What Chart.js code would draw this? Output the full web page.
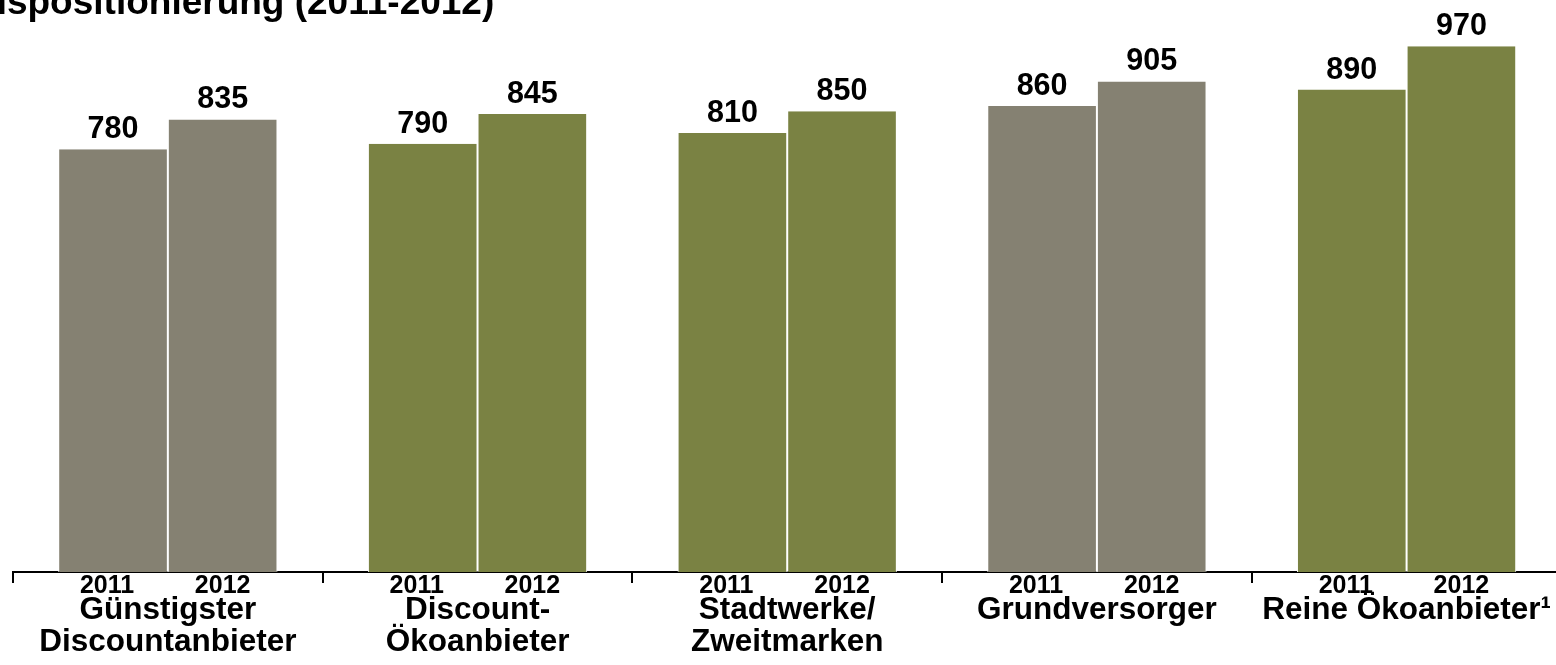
<!DOCTYPE html>
<html>
<head>
<meta charset="utf-8">
<script src="https://cdn.jsdelivr.net/npm/chart.js@4"></script>
<style>
  html, body { margin: 0; padding: 0; overflow: hidden; background: #fff; }
  #wrap { position: relative; width: 1556px; height: 665px; overflow: hidden; }
  #title {
    position: absolute; left: -63px; top: -17px; margin: 0;
    font: bold 37px "Liberation Sans", Arial, sans-serif; line-height: 37px;
    white-space: nowrap; color: #000;
  }
  canvas { position: absolute; left: 0; top: 0; }
</style>
</head>
<body>
<div id="wrap">
  <canvas id="chart" width="1563" height="665"></canvas>
  <h1 id="title">Preispositionierung (2011-2012)</h1>
</div>
<script>
var categories = [['Günstigster', 'Discountanbieter'], ['Discount-', 'Ökoanbieter'], ['Stadtwerke/', 'Zweitmarken'], 'Grundversorger', 'Reine Ökoanbieter¹'];
var years = ['2011', '2012'];
var values2011 = [780, 790, 810, 860, 890];
var values2012 = [835, 845, 850, 905, 970];

var gray = '#858172';
var green = '#7A8243';
var barColors = [gray, green, green, gray, green];
var font = '"Liberation Sans", Arial, sans-serif';

// value above each bar and the year under it
var labelPlugin = {
  id: 'barLabels',
  afterDatasetsDraw: function(chart) {
    var ctx = chart.ctx;
    var bottom = chart.chartArea.bottom;
    ctx.save();
    ctx.fillStyle = '#000';
    ctx.textAlign = 'center';
    chart.data.datasets.forEach(function(ds, i) {
      var meta = chart.getDatasetMeta(i);
      meta.data.forEach(function(bar, j) {
        ctx.font = 'bold 30.5px ' + font;
        ctx.textBaseline = 'alphabetic';
        ctx.fillText(ds.data[j], bar.x, bar.y - 11);
        ctx.font = 'bold 25px ' + font;
        ctx.textBaseline = 'middle';
        ctx.fillText(ds.label, bar.x + (i === 0 ? -6 : 0), bottom + 14);
      });
    });
    ctx.restore();
  }
};

new Chart('chart', {
  type: 'bar',
  data: {
    labels: categories,
    datasets: [{
      label: years[0],
      data: values2011,
      backgroundColor: barColors,
      borderColor: '#fff',
      borderWidth: {left: 1, right: 1, top: 0, bottom: 0},
      borderSkipped: false
    }, {
      label: years[1],
      data: values2012,
      backgroundColor: barColors,
      borderColor: '#fff',
      borderWidth: {left: 1, right: 1, top: 0, bottom: 0},
      borderSkipped: false
    }]
  },
  options: {
    responsive: false,
    animation: false,
    layout: {padding: {left: 13, top: 30, right: 0, bottom: 0}},
    datasets: {bar: {barPercentage: 1, categoryPercentage: 0.708}},
    plugins: {legend: {display: false}, tooltip: {enabled: false}},
    scales: {
      x: {
        afterFit: function(scale) { scale.height = 93; },
        border: {display: true, color: '#000', width: 2},
        grid: {drawOnChartArea: false, drawTicks: true, tickLength: 11, color: '#000', lineWidth: 2, offset: true},
        ticks: {
          autoSkip: false, maxRotation: 0, color: '#000', padding: 12,
          font: {family: font, size: 31.5, weight: 'bold', lineHeight: 1.003}
        }
      },
      y: {display: false, min: 0, max: 1000}
    }
  },
  plugins: [labelPlugin]
});
</script>
</body>
</html>
